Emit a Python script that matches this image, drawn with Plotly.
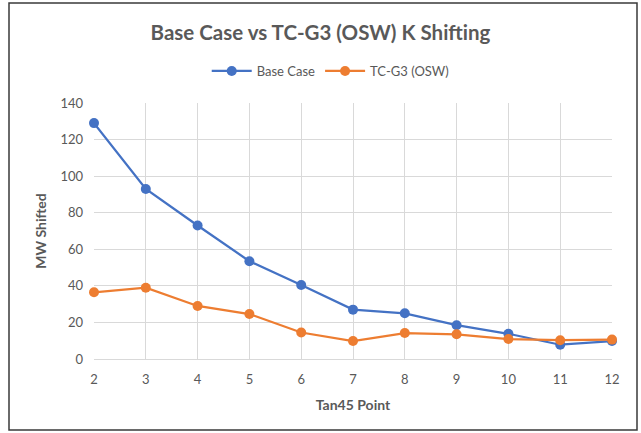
import plotly.graph_objects as go

tan45_points = [2, 3, 4, 5, 6, 7, 8, 9, 10, 11, 12]
base_case = [129, 93, 73, 53.5, 40.5, 27, 25, 18.5, 13.8, 7.8, 9.8]
tc_g3_osw = [36.5, 39, 29, 24.6, 14.5, 9.8, 14.2, 13.5, 10.9, 10.3, 10.6]

FONT = "Lato, Open Sans, sans-serif"

fig = go.Figure()
fig.add_trace(go.Scatter(x=tan45_points, y=base_case, name="Base Case", mode="lines+markers",
                         cliponaxis=False,
                         line=dict(color="#4472C4", width=2.25), marker=dict(size=10, color="#4472C4")))
fig.add_trace(go.Scatter(x=tan45_points, y=tc_g3_osw, name="TC-G3 (OSW)", mode="lines+markers",
                         cliponaxis=False,
                         line=dict(color="#ED7D31", width=2.25), marker=dict(size=10, color="#ED7D31")))

fig.update_layout(
    width=641, height=433,
    margin=dict(l=94, r=29, t=103, b=74),
    paper_bgcolor="white", plot_bgcolor="white",
    font=dict(family=FONT, color="#595959", size=12),
    title=dict(text="<b>Base Case vs TC-G3 (OSW) K Shifting</b>", x=0.5, xanchor="center",
               y=1 - 33 / 433, yanchor="middle", yref="container",
               font=dict(size=20.5, color="#595959", family=FONT)),
    legend=dict(orientation="h", x=0.457, xanchor="center", y=1.125, yanchor="middle",
                font=dict(size=13, color="#595959"), itemwidth=40),
    xaxis=dict(range=[2, 12], dtick=1, tick0=2, showgrid=True, gridcolor="#d9d9d9", gridwidth=1,
               zeroline=False, showline=True, linecolor="#d9d9d9", linewidth=1,
               tickfont=dict(size=13, color="#595959"), ticks="", ticklabelstandoff=8,
               title=dict(text="<b>Tan45 Point</b>", font=dict(size=14, color="#595959"), standoff=14)),
    yaxis=dict(range=[0, 140], dtick=20, showgrid=True, gridcolor="#d9d9d9", gridwidth=1,
               zeroline=False, showline=False, ticks="", ticklabelstandoff=10,
               tickfont=dict(size=13, color="#595959"),
               title=dict(text="<b>MW Shifted</b>", font=dict(size=14, color="#595959"), standoff=10)),
    showlegend=True,
)

# outer frame
pw, ph = 641 - 94 - 29, 433 - 103 - 74
fig.add_shape(type="rect", xref="paper", yref="paper",
              x0=(9 - 94) / pw, x1=(637 - 94) / pw,
              y0=(433 - 74 - 430) / ph, y1=(433 - 74 - 3) / ph,
              line=dict(color="#3a3a3a", width=1.5), fillcolor="rgba(0,0,0,0)", layer="below")

fig.write_html("out.html", config={"displayModeBar": False},
               post_script="document.body.style.margin='0';")
